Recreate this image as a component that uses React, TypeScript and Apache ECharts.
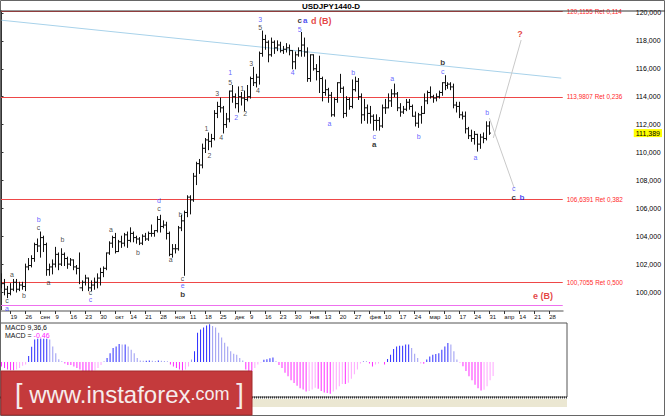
import React, { useEffect, useRef } from "react";
import * as echarts from "echarts";

// ---------- data ----------
const FIRST_DAY = [2016, 7, 16]; // 16 Aug 2016 (UTC, month 0-based)
const CATEGORY_COUNT = 188; // trading days on the time scale (incl. empty future)
const MONTHS_RU = ["янв", "фев", "мар", "апр", "май", "июн", "июл", "авг", "сен", "окт", "ноя", "дек"];

const opens = [
  101.0, 100.6, 100.2, 99.9, 100.2, 100.7, 100.2, 100.5, 100.4, 101.8, 101.9, 102.4, 103.4, 103.3, 103.9, 103.4, 101.6, 101.8, 102.0, 102.7,
  102.0, 102.7, 102.4, 102.0, 102.3, 101.8, 101.7, 100.3, 100.7, 101.0, 100.3, 100.5, 100.7, 101.0, 101.4, 101.7, 102.8, 103.5, 103.9, 102.9,
  103.6, 103.5, 104.1, 103.7, 104.2, 103.9, 103.8, 103.5, 104.0, 103.8, 104.2, 104.2, 104.4, 105.2, 104.7, 104.8, 104.2, 102.7, 103.1, 103.1,
  104.6, 105.1, 105.7, 106.8, 106.6, 108.3, 109.2, 109.1, 110.3, 110.9, 110.8, 111.0, 112.8, 113.3, 113.2, 112.0, 112.4, 114.4, 114.0, 113.5,
  114.0, 113.9, 113.8, 114.0, 115.3, 115.0, 115.4, 117.1, 118.1, 117.9, 117.0, 117.9, 117.5, 117.7, 117.3, 117.4, 117.5, 117.3, 116.5, 117.0,
  117.3, 117.7, 117.2, 115.3, 117.0, 116.0, 115.8, 115.3, 114.3, 114.5, 114.1, 112.7, 113.8, 115.0, 114.6, 112.8, 113.8, 113.3, 114.5, 115.1,
  114.0, 112.7, 113.2, 112.8, 112.6, 112.3, 112.3, 111.9, 113.2, 113.2, 113.7, 114.2, 114.2, 113.2, 112.9, 113.1, 113.6, 113.3, 112.6, 112.1,
  112.7, 112.8, 113.7, 114.3, 114.0, 113.9, 114.0, 114.3, 115.0, 114.8, 114.9, 114.7, 113.4, 113.3, 112.7, 112.6, 111.7, 111.2, 111.0, 111.3,
  110.6, 111.1, 111.0, 111.9,
];
const highs = [
  101.3, 100.9, 100.4, 100.6, 100.9, 100.9, 100.7, 100.7, 102.0, 102.4, 102.6, 103.5, 103.8, 104.3, 104.0, 103.5, 102.0, 102.3, 103.2, 102.8,
  103.1, 102.8, 102.5, 102.4, 102.3, 101.9, 102.8, 100.8, 101.2, 101.0, 100.8, 101.0, 101.3, 101.7, 101.8, 102.8, 103.6, 104.0, 104.2, 103.7,
  104.0, 104.2, 104.3, 104.6, 104.3, 104.0, 103.9, 104.1, 104.2, 104.3, 104.8, 104.4, 105.4, 105.5, 105.1, 105.0, 104.3, 103.4, 103.4, 104.7,
  105.5, 105.8, 106.9, 106.9, 108.5, 109.3, 109.5, 110.6, 111.0, 111.4, 111.3, 113.0, 113.6, 113.9, 113.3, 112.8, 114.4, 114.8, 114.2, 114.7,
  114.3, 114.4, 114.8, 115.4, 116.1, 115.6, 117.2, 118.7, 118.4, 118.0, 118.2, 118.0, 118.0, 117.9, 117.6, 117.8, 117.7, 117.3, 117.2, 117.5,
  118.6, 118.2, 117.5, 117.0, 117.0, 116.3, 116.9, 115.4, 115.2, 114.6, 114.3, 113.9, 115.0, 115.6, 114.7, 114.0, 113.9, 115.2, 115.4, 115.3,
  114.2, 113.8, 113.4, 113.3, 112.7, 112.7, 112.5, 113.4, 113.8, 114.2, 114.5, 114.9, 114.3, 113.5, 113.3, 113.8, 113.8, 113.4, 112.9, 112.8,
  113.3, 114.2, 114.4, 114.7, 114.1, 114.2, 114.4, 115.0, 115.5, 115.0, 115.0, 114.9, 113.6, 113.6, 112.9, 112.9, 111.8, 111.6, 111.5, 111.3,
  111.3, 111.4, 112.2, 112.2,
];
const lows = [
  100.3, 99.8, 99.6, 99.8, 100.1, 100.0, 100.1, 100.2, 100.1, 101.6, 101.8, 102.2, 102.9, 102.5, 102.9, 101.2, 101.2, 101.3, 101.8, 101.6,
  101.9, 101.9, 101.7, 101.9, 101.6, 101.3, 100.6, 100.1, 100.5, 100.1, 100.1, 100.2, 100.3, 100.5, 101.1, 101.6, 102.7, 103.2, 102.8, 102.9,
  103.2, 103.3, 103.2, 103.6, 103.6, 103.5, 103.4, 103.4, 103.7, 103.7, 104.0, 104.0, 104.3, 104.3, 104.6, 103.8, 102.6, 102.5, 102.8, 103.0,
  104.4, 101.2, 105.4, 105.6, 106.5, 107.7, 108.5, 108.9, 110.0, 110.2, 110.4, 110.9, 112.5, 112.9, 111.4, 111.8, 112.2, 113.6, 113.2, 112.9,
  113.4, 113.0, 113.7, 113.9, 114.8, 114.7, 114.9, 116.9, 117.4, 116.5, 116.9, 117.1, 117.3, 117.2, 117.1, 117.2, 117.0, 116.0, 116.0, 116.9,
  116.9, 116.9, 115.1, 115.1, 115.9, 115.2, 114.3, 113.7, 114.1, 113.6, 112.6, 112.6, 113.6, 114.3, 112.5, 112.6, 113.1, 113.2, 114.4, 113.8,
  112.1, 112.3, 112.1, 112.1, 111.6, 111.6, 111.6, 111.8, 112.8, 113.2, 113.3, 114.0, 113.0, 112.6, 112.8, 113.0, 113.1, 112.6, 111.9, 111.8,
  112.1, 112.8, 113.5, 113.9, 113.6, 113.7, 113.9, 114.1, 114.5, 114.6, 114.5, 113.2, 112.9, 112.5, 112.4, 111.4, 111.0, 110.8, 110.6, 110.1,
  110.3, 110.7, 110.9, 111.3,
];
const closes = [
  100.6, 100.2, 99.9, 100.2, 100.7, 100.2, 100.5, 100.4, 101.8, 101.9, 102.4, 103.4, 103.3, 103.9, 103.4, 101.6, 101.8, 102.0, 102.7, 102.0,
  102.7, 102.4, 102.0, 102.3, 101.8, 101.7, 100.3, 100.7, 101.0, 100.3, 100.5, 100.7, 101.0, 101.4, 101.7, 102.8, 103.5, 103.9, 102.9, 103.6,
  103.5, 104.1, 103.7, 104.2, 103.9, 103.8, 103.5, 104.0, 103.8, 104.2, 104.2, 104.4, 105.2, 104.7, 104.8, 104.2, 102.7, 103.1, 103.1, 104.6,
  105.1, 105.7, 106.8, 106.6, 108.3, 109.2, 109.1, 110.3, 110.9, 110.8, 111.0, 112.8, 113.3, 113.2, 112.0, 112.4, 114.4, 114.0, 113.5, 114.0,
  113.9, 113.8, 114.0, 115.3, 115.0, 115.4, 117.1, 118.1, 117.9, 117.0, 117.9, 117.5, 117.7, 117.3, 117.4, 117.5, 117.3, 116.5, 117.0, 117.3,
  117.7, 117.2, 115.3, 117.0, 116.0, 115.8, 115.3, 114.3, 114.5, 114.1, 112.7, 113.8, 115.0, 114.6, 112.8, 113.8, 113.3, 114.5, 115.1, 114.0,
  112.7, 113.2, 112.8, 112.6, 112.3, 112.3, 111.9, 113.2, 113.2, 113.7, 114.2, 114.2, 113.2, 112.9, 113.1, 113.6, 113.3, 112.6, 112.1, 112.7,
  112.8, 113.7, 114.3, 114.0, 113.9, 114.0, 114.3, 115.0, 114.8, 114.9, 114.7, 113.4, 113.3, 112.7, 112.6, 111.7, 111.2, 111.0, 111.3, 110.6,
  111.1, 111.0, 111.9, 111.389,
];
const macdHist = [
  -0.15, -0.2, -0.25, -0.27, -0.27, -0.25, -0.2, -0.12, -0.08, 0.2, 0.5, 0.74, 0.76, 0.76, 0.76, 0.76, 0.74, 0.51, 0.29, 0.09,
  0.02, -0.05, -0.1, -0.1, -0.15, -0.2, -0.25, -0.3, -0.3, -0.3, -0.3, -0.28, -0.2, -0.1, 0.02, 0.13, 0.29, 0.46, 0.51, 0.59,
  0.57, 0.57, 0.51, 0.4, 0.29, 0.13, 0.05, 0.04, 0.04, 0.05, 0.04, 0.03, 0.05, 0.04, 0.03, 0.02, -0.08, -0.15, -0.2, -0.25,
  -0.28, -0.25, -0.15, 0.08, 0.35, 0.96, 1.07, 1.13, 1.2, 1.24, 1.18, 1.13, 0.96, 0.8, 0.63, 0.51, 0.35, 0.27, 0.24, 0.13,
  0.05, -0.25, -0.3, -0.3, -0.2, -0.08, -0.02, 0.07, 0.09, 0.12, 0.15, 0.02, -0.1, -0.2, -0.35, -0.47, -0.6, -0.69, -0.78, -0.86,
  -0.9, -0.97, -0.95, -0.9, -0.85, -0.88, -0.95, -1.0, -1.02, -1.04, -0.97, -0.9, -0.8, -0.72, -0.72, -0.68, -0.55, -0.4, -0.25, -0.05,
  0.03, 0.02, -0.05, -0.15, -0.08, -0.05, 0.0, -0.08, 0.1, 0.24, 0.43, 0.51, 0.53, 0.53, 0.57, 0.57, 0.46, 0.27, 0.13, -0.05,
  -0.06, 0.08, 0.18, 0.24, 0.26, 0.29, 0.4, 0.51, 0.62, 0.57, 0.35, 0.08, -0.03, -0.14, -0.3, -0.47, -0.6, -0.75, -0.86, -0.94,
  -0.91, -0.8, -0.6, -0.46,
];
const priceTicks = [100, 102, 104, 106, 108, 110, 112, 114, 116, 118, 120];
const lastPrice = 111.389;
const fibLevels = [120.1155, 113.9807, 106.6391, 100.7055];
const fibLabels = ["120,1155 Ret 0,114", "113,9807 Ret 0,236", "106,6391 Ret 0,382", "100,7055 Ret 0,500"];
const magentaLevel = 99.06;
const trendLine = [[0, 119.48], [187, 115.33]];
const projectionUp = [[164.3, 111.04], [173.6, 118.06]];
const projectionDown = [[163, 112.47], [171.3, 107.45]];
// wave labels: [text, bar index, price, tone]
const waveLabels: [string, number, number, string][] = [
  ["c", 1.8, 99.4, "k"], ["a", 1.8, 98.85, "b"], ["a", 3.5, 101.29, "k"], ["b", 7.5, 99.78, "k"],
  ["b", 12.4, 105.2, "b"], ["c", 12.4, 104.65, "k"], ["a", 15.7, 100.71, "k"], ["b", 20.4, 103.8, "k"],
  ["c", 29.7, 99.98, "k"], ["c", 29.7, 99.43, "b"], ["a", 36.6, 104.51, "k"], ["b", 45.6, 102.86, "k"],
  ["d", 52.6, 106.55, "b"], ["c", 52.6, 106.0, "k"], ["b", 59.8, 105.59, "k"], ["a", 56.5, 102.36, "k"],
  ["c", 60.5, 101.0, "k"], ["e", 60.5, 100.45, "b"], ["b", 60.5, 99.82, "K"],
  ["1", 68.5, 111.75, "k"], ["2", 69.5, 109.82, "k"], ["3", 72.1, 114.26, "k"], ["4", 73.4, 111.11, "k"],
  ["1", 76.4, 115.72, "b"], ["5", 76.4, 115.05, "k"], ["2", 78.4, 112.54, "b"], ["1", 80.4, 114.62, "k"],
  ["2", 81.4, 112.76, "k"], ["3", 83.4, 116.41, "k"], ["4", 85.7, 114.41, "k"], ["3", 86.4, 119.55, "b"],
  ["5", 86.4, 118.98, "k"], ["c", 99.6, 119.45, "K"], ["a", 101.5, 119.45, "B"], ["d (B)", 106.8, 119.45, "R"],
  ["5", 99.6, 118.83, "b"], ["4", 97.3, 115.7, "b"], ["a", 109.6, 112.11, "b"], ["b", 117.5, 115.7, "b"],
  ["c", 124.5, 111.18, "b"], ["a", 124.5, 110.58, "K"], ["a", 130.5, 115.27, "b"], ["b", 139.4, 111.18, "b"],
  ["b", 147.4, 116.45, "K"], ["c", 147.4, 115.8, "b"], ["b", 162.3, 112.9, "b"], ["a", 158.3, 109.67, "b"],
  ["?", 173.2, 118.49, "R"], ["c", 171.1, 107.4, "b"], ["c", 171.1, 106.8, "K"], ["b", 173.9, 106.8, "B"],
  ["e (B)", 180.9, 99.71, "R"],
];

// ---------- helpers ----------
function buildDays(): string[] {
  const out: string[] = [];
  const d = new Date(Date.UTC(FIRST_DAY[0], FIRST_DAY[1], FIRST_DAY[2]));
  while (out.length < CATEGORY_COUNT) {
    const wd = d.getUTCDay();
    if (wd !== 0 && wd !== 6) out.push(d.toISOString().slice(0, 10));
    d.setUTCDate(d.getUTCDate() + 1);
  }
  return out;
}
const isFriday = (s: string) => new Date(s + "T00:00:00Z").getUTCDay() === 5;
const dateLabel = (s: string) => {
  const d = new Date(s + "T00:00:00Z");
  return d.getUTCDate() <= 7 ? MONTHS_RU[d.getUTCMonth()] : String(d.getUTCDate());
};
const fmtPrice = (v: number) => v.toFixed(3).replace(".", ",");

const TONES: Record<string, { color: string; size: number; weight: string }> = {
  k: { color: "#1a1a1a", size: 7, weight: "normal" },
  K: { color: "#000000", size: 8, weight: "bold" },
  b: { color: "#3a3aff", size: 7, weight: "normal" },
  B: { color: "#2020ee", size: 8, weight: "bold" },
  R: { color: "#dd1111", size: 9, weight: "bold" },
};

const FONT = "Liberation Sans";

export default function App() {
  const ref = useRef<HTMLDivElement>(null);
  useEffect(() => {
    const chart = echarts.init(ref.current!, null, { renderer: "svg" });
    const days = buildDays();
    const ohlc = opens.map((o, i) => [i, o, highs[i], lows[i], closes[i]]);
    const fridayInterval = (_i: number, v: string) => isFriday(v);

    const option: any = {
      animation: false,
      backgroundColor: "#ffffff",
      grid: [
        { left: 0, top: 11, width: 567, height: 300, containLabel: false },
        { left: 0, top: 323, width: 567, height: 74, show: true, borderColor: "#555", borderWidth: 1, backgroundColor: "#fff" },
      ],
      xAxis: [
        {
          type: "category", gridIndex: 0, data: days, boundaryGap: true,
          axisLine: { show: true, lineStyle: { color: "#a8a8a8", width: 2 } },
          axisTick: { show: true, alignWithLabel: true, interval: fridayInterval, length: 3, lineStyle: { color: "#333" } },
          axisLabel: { show: true, interval: fridayInterval, formatter: dateLabel, align: "left", margin: 3, fontSize: 6, color: "#111", fontFamily: FONT },
          splitLine: { show: false },
        },
        { type: "category", gridIndex: 1, data: days, boundaryGap: true, show: false },
        { type: "value", gridIndex: 0, min: -0.5, max: CATEGORY_COUNT - 0.5, show: false },
      ],
      yAxis: [
        {
          type: "value", gridIndex: 0, min: 98.64, max: 120.14, position: "right", offset: 71,
          axisLine: { show: true, lineStyle: { color: "#333", width: 1 } },
          axisTick: { show: true, length: 2, customValues: priceTicks, lineStyle: { color: "#333" } },
          axisLabel: { show: true, customValues: priceTicks, formatter: fmtPrice, margin: 2, fontSize: 7, color: "#000", fontFamily: FONT },
          splitLine: { show: false },
        },
        {
          type: "value", gridIndex: 0, min: 98.64, max: 120.14, position: "right", offset: 71,
          axisLine: { show: false }, axisTick: { show: false }, splitLine: { show: false },
          axisLabel: { show: true, customValues: [lastPrice], formatter: fmtPrice, margin: 0, fontSize: 7, color: "#000", fontFamily: FONT, backgroundColor: "#ffff00", padding: [1, 2, 0, 2] },
        },
        { type: "value", gridIndex: 1, min: -1.15, max: 1.28, show: false },
      ],
      series: [
        {
          type: "custom", xAxisIndex: 0, yAxisIndex: 0, data: ohlc,
          encode: { x: 0, y: [1, 2, 3, 4] },
          renderItem: (params: any, api: any) => {
            const i = api.value(0);
            const pH = api.coord([i, api.value(2)]);
            const pL = api.coord([i, api.value(3)]);
            const pO = api.coord([i, api.value(1)]);
            const pC = api.coord([i, api.value(4)]);
            const x = Math.round(pH[0]) + 0.5;
            const st = { stroke: "#111", lineWidth: 1 };
            return {
              type: "group",
              children: [
                { type: "line", shape: { x1: x, y1: pH[1] - 0.5, x2: x, y2: pL[1] + 0.5 }, style: st },
                { type: "line", shape: { x1: x - 1.5, y1: pO[1], x2: x, y2: pO[1] }, style: st },
                { type: "line", shape: { x1: x, y1: pC[1], x2: x + 1.5, y2: pC[1] }, style: st },
              ],
            };
          },
          z: 5,
        },
        {
          type: "line", xAxisIndex: 2, yAxisIndex: 0, data: trendLine, symbol: "none",
          lineStyle: { color: "#a8d2ea", width: 1 }, z: 2,
          markLine: {
            silent: true, symbol: ["none", "none"], animation: false,
            data: [
              ...fibLevels.map((v, i) => ({
                yAxis: v,
                lineStyle: { color: "#ee4848", width: 1, type: "solid" },
                label: { show: true, position: "end", formatter: fibLabels[i], color: "#ff2a2a", fontSize: 6.4, fontFamily: FONT, distance: 4 },
              })),
              { yAxis: magentaLevel, lineStyle: { color: "#ee70ee", width: 1, type: "solid" }, label: { show: false } },
            ],
          },
        },
        {
          type: "line", xAxisIndex: 2, yAxisIndex: 0, data: projectionUp, symbol: "none",
          lineStyle: { color: "#c9c9c9", width: 1 }, z: 2,
        },
        {
          type: "line", xAxisIndex: 2, yAxisIndex: 0, data: projectionDown, symbol: "none",
          lineStyle: { color: "#c9c9c9", width: 1 }, z: 2,
        },
        {
          type: "scatter", xAxisIndex: 2, yAxisIndex: 0, symbolSize: 0, z: 6,
          data: waveLabels.map(([t, x, y, tone]) => ({
            value: [x, y],
            label: {
              show: true, position: "inside", formatter: t,
              color: TONES[tone].color, fontSize: TONES[tone].size, fontWeight: TONES[tone].weight, fontFamily: FONT,
            },
          })),
        },
        {
          type: "bar", xAxisIndex: 1, yAxisIndex: 2, barWidth: 1,
          data: macdHist.map((v, i) => {
            const prev = i > 0 ? macdHist[i - 1] : 0;
            const growing = Math.abs(v) >= Math.abs(prev);
            const color = v >= 0 ? (growing ? "#2d2dff" : "#9a9af2") : (growing ? "#ff2cff" : "#ffa6ff");
            return { value: v, itemStyle: { color } };
          }),
        },
      ],
      graphic: [
        { type: "rect", shape: { x: 0.5, y: 0.5, width: 664, height: 415 }, style: { fill: "none", stroke: "#666", lineWidth: 1 }, z: 100 },
        { type: "line", shape: { x1: 0, y1: 11, x2: 665, y2: 11 }, style: { stroke: "#333", lineWidth: 1 }, z: 100 },
        { type: "text", x: 331, y: 6, style: { text: "USDJPY1440-D", fill: "#000", fontSize: 8, fontWeight: "bold", fontFamily: FONT, align: "center", verticalAlign: "middle" }, z: 100 },
        { type: "text", x: 5, y: 327, style: { text: "MACD 9,36,6", fill: "#111", fontSize: 7, fontFamily: FONT, verticalAlign: "middle" }, z: 100 },
        { type: "text", x: 5, y: 335, style: { text: "{k|MACD = }{m|-0,46}", rich: { k: { fill: "#111", fontSize: 7, fontFamily: FONT }, m: { fill: "#ff22ff", fontSize: 7, fontFamily: FONT } }, verticalAlign: "middle" }, z: 100 },
        { type: "line", shape: { x1: 0, y1: 397.5, x2: 567, y2: 397.5 }, style: { stroke: "#333", lineWidth: 2, lineDash: [1, 1] }, z: 100 },
        { type: "rect", shape: { x: 252, y: 399, width: 315, height: 8 }, style: { fill: "#ebe7d2" }, z: 99 },
        { type: "rect", shape: { x: 1, y: 371, width: 251, height: 44 }, style: { fill: "#c43a3c", stroke: "#a32a2c", lineWidth: 1 }, z: 101 },
        {
          type: "text", x: 15, y: 394, z: 102,
          style: {
            text: "{b|[}  {m|www.instaforex}{s|.com}  {b|]}", verticalAlign: "middle",
            rich: {
              b: { fill: "#f6ecec", fontSize: 27, fontFamily: FONT },
              m: { fill: "#f6ecec", fontSize: 24, fontFamily: FONT },
              s: { fill: "#f6ecec", fontSize: 18, fontFamily: FONT },
            },
          },
        },
      ],
    };
    chart.setOption(option);
    return () => chart.dispose();
  }, []);
  return <div ref={ref} style={{ position: "absolute", left: 0, top: 0, width: 665, height: 416 }} />;
}
